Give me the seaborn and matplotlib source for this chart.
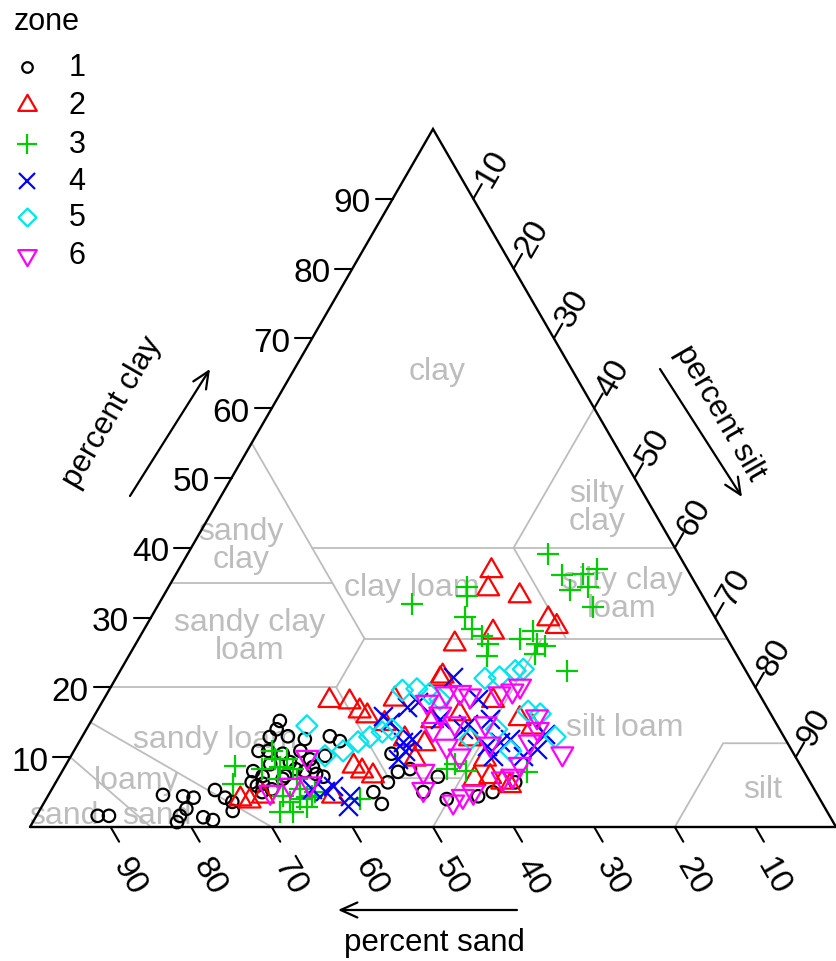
import numpy as np
import pandas as pd
import matplotlib
matplotlib.use("Agg")
import matplotlib.pyplot as plt
from matplotlib.lines import Line2D
from matplotlib.path import Path
import seaborn as sns

# ---- soil samples: percent sand and percent clay per zone (silt is the remainder) ----
zones = ["1", "2", "3", "4", "5", "6"]

z1_sand = [90.8, 89.4, 81.2, 78.8, 77.6, 79.3, 80.6, 81.4, 77.8, 76.8, 74.4, 73.7, 73.7, 73.1,
           61.4, 62.4, 63.8, 61.5, 66.2, 68.3, 67.5, 69.3, 68.0, 65.7, 63.4, 63.1, 64.7, 67.3,
           68.7, 59.6, 56.3, 55.4, 58.3, 60.0, 60.4, 60.6, 60.7, 61.9, 65.2,
           49.9, 50.4, 48.7, 52.4, 54.9, 54.7, 48.7, 45.8, 46.3, 42.2, 40.1, 36.6,
           68.9, 62.9, 61.0, 65.0]
z1_clay = [1.6, 1.6, 4.6, 4.4, 4.2, 2.6, 1.6, 0.7, 1.4, 1.0, 5.3, 4.2, 2.3, 3.6,
           15.2, 14.0, 12.9, 13.0, 10.9, 8.0, 7.3, 6.4, 6.2, 9.0, 10.5, 9.3, 7.3, 5.4,
           5.0, 12.6, 13.0, 12.3, 10.2, 7.2, 9.7, 8.6, 7.6, 8.0, 6.9,
           10.5, 7.9, 8.3, 6.4, 5.0, 3.3, 5.0, 7.2, 4.0, 4.4, 5.0, 6.4,
           5.9, 8.3, 10.9, 10.9]

z2_sand = [24.4, 26.1, 22.7, 20.8, 20.3, 28.6, 34.2, 38.0, 53.8, 51.4, 50.8, 50.2, 48.6,
           55.5, 54.8, 53.8, 47.4, 38.6, 33.5, 41.4, 39.3, 38.2, 37.5, 71.9, 70.9, 42.5,
           38.5, 47.2, 39.1, 31.5, 30.5, 38.7, 60.2, 45.6, 45.1, 68.9]
z2_clay = [36.7, 34.1, 33.1, 29.8, 28.7, 27.9, 26.2, 21.6, 18.1, 17.9, 16.6, 15.9, 14.8,
           8.7, 8.0, 7.3, 9.7, 16.2, 18.1, 6.9, 7.2, 6.4, 5.9, 4.0, 3.7, 15.2,
           21.2, 12.6, 12.6, 15.5, 14.3, 9.7, 4.4, 18.3, 11.9, 4.4]

z3_sand = [16.2, 16.0, 16.0, 13.3, 13.6, 11.2, 14.4, 28.6, 29.2, 31.0, 31.0, 30.2, 30.1,
           31.0, 25.8, 23.5, 24.0, 24.9, 23.2, 22.2, 36.6, 42.8, 41.9, 34.4, 44.1,
           70.2, 71.7, 64.5, 64.7, 64.7, 65.8, 63.3, 63.2, 63.4, 63.8, 66.4, 65.9,
           64.5, 63.5, 62.8, 66.3, 67.9, 64.2, 62.1, 57.1, 67.1]
z3_clay = [39.1, 36.1, 34.0, 36.2, 34.4, 37.0, 31.5, 34.4, 33.1, 30.1, 28.4, 27.4, 26.2,
           24.5, 26.9, 28.1, 26.2, 24.8, 25.9, 22.4, 31.9, 9.0, 8.0, 7.9, 8.3,
           8.7, 6.2, 10.9, 9.7, 8.6, 6.9, 9.7, 8.3, 6.9, 5.4, 4.4, 3.6,
           4.0, 4.3, 4.4, 2.1, 2.1, 2.9, 5.0, 4.0, 8.3]

z4_sand = [36.8, 42.9, 44.6, 48.3, 47.8, 47.6, 48.0, 39.3, 37.5, 35.6, 34.1, 37.5, 31.5,
           33.7, 59.5, 58.1, 59.0, 60.8, 46.3, 38.3, 35.3, 41.4, 49.5, 29.4, 35.2, 62.3]
z4_clay = [21.5, 17.9, 17.2, 15.9, 15.0, 12.2, 10.9, 14.0, 11.6, 12.2, 12.6, 10.2, 11.2,
           10.2, 5.9, 4.4, 3.0, 5.2, 12.6, 14.8, 18.3, 15.5, 9.7, 13.3, 15.5, 5.4]

z5_sand = [58.4, 58.3, 55.7, 53.2, 51.4, 49.5, 44.0, 42.1, 40.9, 32.9, 31.0, 28.6, 27.5,
           29.9, 28.6, 28.4, 48.1, 40.0, 35.1, 39.1, 34.9]
z5_clay = [14.5, 10.2, 10.9, 12.2, 12.9, 13.6, 19.6, 19.8, 19.1, 21.3, 21.5, 22.4, 22.6,
           16.6, 16.2, 12.9, 14.0, 18.3, 14.0, 12.6, 10.9]

z6_sand = [60.6, 67.7, 64.7, 62.2, 41.8, 38.8, 37.0, 36.0, 32.2, 30.4, 29.1, 43.0, 42.5,
           47.2, 48.5, 45.7, 44.1, 42.5, 29.2, 30.0, 31.9, 28.7, 36.5, 34.7, 37.9, 41.6,
           41.0, 36.1, 39.9, 37.0]
z6_clay = [10.0, 5.0, 6.0, 6.2, 17.9, 19.1, 19.3, 18.8, 19.1, 19.5, 20.2, 14.0, 11.6,
           8.0, 5.4, 3.6, 4.4, 5.0, 15.8, 14.0, 12.2, 10.5, 7.3, 9.0, 6.9, 10.2,
           16.2, 14.8, 14.8, 11.9]

sand_by_zone = [z1_sand, z2_sand, z3_sand, z4_sand, z5_sand, z6_sand]
clay_by_zone = [z1_clay, z2_clay, z3_clay, z4_clay, z5_clay, z6_clay]

tick_values = [10, 20, 30, 40, 50, 60, 70, 80, 90]

# USDA texture class boundaries as (sand, clay) polylines
class_lines = [
    [(45, 55), (45, 27)],
    [(45, 40), (0, 40)],
    [(0, 60), (20, 40)],
    [(20, 40), (20, 27)],
    [(65, 35), (45, 35)],
    [(45, 27), (0, 27)],
    [(45, 27), (52, 20)],
    [(80, 20), (52, 20)],
    [(52, 20), (52, 7), (43, 7)],
    [(23, 27), (50, 0)],
    [(20, 0), (8, 12), (0, 12)],
    [(85, 15), (70, 0)],
    [(90, 10), (85, 0)],
]

# ---- styling ----
sns.set_theme(style="white")
plt.rcParams["font.family"] = ["Liberation Sans", "DejaVu Sans"]
plt.rcParams["text.color"] = "black"


def closed_marker(verts):
    return Path(list(verts) + [verts[0]], closed=True)


zone_colors = ["#000000", "#FF0000", "#00CD00", "#0000FF", "#00E5EE", "#FF00FF"]
tri_up = closed_marker([(0, 1.555), (1.347, -0.778), (-1.347, -0.778)])
tri_down = closed_marker([(0, -1.555), (1.347, 0.778), (-1.347, 0.778)])
diamond = closed_marker([(0, 1), (1, 0), (0, -1), (-1, 0)])
zone_markers = ["o", tri_up, "+", "x", diamond, tri_down]
zone_sizes = [80, 330, 260, 185, 230, 330]
zone_filled = [True, True, False, False, True, True]
GRAY = "#bdbdbd"

S3 = np.sqrt(3) / 2


def to_xy(sand, clay):
    sand = np.asarray(sand, dtype=float) / 100.0
    clay = np.asarray(clay, dtype=float) / 100.0
    return 1.0 - sand - clay / 2.0, clay * S3


# ---- figure: triangle side spans 806 px, left corner at (30, 828) px ----
W, H = 836, 962
X0, Y0, SIDE = 30, 828, 806
P = 1.0 / SIDE  # one pixel in triangle units

fig = plt.figure(figsize=(W / 100, H / 100), dpi=100)
ax = fig.add_axes([0, 0, 1, 1])
ax.set_xlim(-X0 / SIDE, (W - X0) / SIDE)
ax.set_ylim(-(H - Y0) / SIDE, Y0 / SIDE)
ax.axis("off")


def px(x, y):
    return (x - X0) / SIDE, (Y0 - y) / SIDE


# class boundaries
for line in class_lines:
    s, c = zip(*line)
    lx, ly = to_xy(s, c)
    ax.plot(lx, ly, color=GRAY, lw=1.3, zorder=1)

# class names
label_fs = 23
class_labels = [
    ("clay", 437, 372), ("silty\nclay", 597, 508), ("sandy\nclay", 241, 546),
    ("clay loam", 412, 588), ("silty clay\nloam", 622, 595), ("sandy clay\nloam", 250, 637),
    ("sandy loam", 215, 740), ("silt loam", 625, 728), ("loamy", 137, 781),
    ("sand", 157, 816), ("sand", 64, 816), ("silt", 763, 790),
]
for txt, lx, ly in class_labels:
    tx, ty = px(lx, ly)
    ax.text(tx, ty, txt, color=GRAY, fontsize=label_fs, ha="center", va="center",
            linespacing=0.95, zorder=1)

# outer triangle
ax.plot([0, 1, 0.5, 0], [0, 0, S3, 0], color="black", lw=1.7, zorder=2,
        solid_joinstyle="miter")

# ticks and tick labels
tick_fs = 24
TL = 17 * P
for v in tick_values:
    f = v / 100.0
    # clay, left edge
    xe, ye = f / 2, f * S3
    ax.plot([xe, xe - TL], [ye, ye], color="black", lw=1.5)
    ax.text(xe - TL - 5 * P, ye - 4 * P, str(v), fontsize=tick_fs, ha="right", va="center")
    # sand, bottom edge
    xb = 1 - f
    ax.plot([xb, xb + TL * 0.5], [0, -TL * S3], color="black", lw=1.5)
    ax.text(xb + 18 * P, -49 * P, str(v), fontsize=tick_fs, ha="center", va="center",
            rotation=-60)
    # silt, right edge
    xr, yr = 0.5 + f / 2, (1 - f) * S3
    ax.plot([xr, xr + TL * 0.5], [yr, yr + TL * S3], color="black", lw=1.5)
    ax.text(xr + 19 * P, yr + 31 * P, str(v), fontsize=tick_fs, ha="center", va="center",
            rotation=60)

# axis titles with arrows
title_fs = 22.5
arrow_kw = dict(arrowstyle="->,head_length=1.0,head_width=0.45", lw=1.6, color="black",
                shrinkA=0, shrinkB=0)
ax.annotate("", xy=px(338, 911), xytext=px(517, 911), arrowprops=arrow_kw)
ax.text(*px(434, 943), "percent sand", fontsize=title_fs, ha="center", va="center")
ax.annotate("", xy=px(210, 370), xytext=px(130, 497), arrowprops=arrow_kw)
ax.text(*px(112, 412), "percent clay", fontsize=title_fs, ha="center", va="center",
        rotation=60)
ax.annotate("", xy=px(742, 498), xytext=px(660, 370), arrowprops=arrow_kw)
ax.text(*px(720, 413), "percent silt", fontsize=title_fs, ha="center", va="center",
        rotation=-60)

# samples
frames = []
for z, s, c in zip(zones, sand_by_zone, clay_by_zone):
    frames.append(pd.DataFrame({"zone": z, "sand": s, "clay": c}))
df = pd.concat(frames, ignore_index=True)
df["silt"] = 100 - df["sand"] - df["clay"]
df["x"], df["y"] = to_xy(df["sand"], df["clay"])

for z, col, mk, sz, filled in zip(zones, zone_colors, zone_markers, zone_sizes, zone_filled):
    sub = df[df["zone"] == z]
    if filled:
        sns.scatterplot(data=sub, x="x", y="y", marker=mk, s=sz, facecolor="none",
                        edgecolor=col, linewidth=1.6, ax=ax, legend=False, zorder=3)
    else:
        sns.scatterplot(data=sub, x="x", y="y", marker=mk, s=sz, color=col,
                        linewidth=1.6, ax=ax, legend=False, zorder=3)
ax.set_xlabel("")
ax.set_ylabel("")
ax.set_xlim(-X0 / SIDE, (W - X0) / SIDE)
ax.set_ylim(-(H - Y0) / SIDE, Y0 / SIDE)

# legend, laid out row by row in figure pixels
fig.text(14 / W, 1 - 22 / H, "zone", fontsize=22, ha="left", va="center")
row_y = [68, 106, 145, 182, 218, 256]
for z, col, mk, sz, filled, ry in zip(zones, zone_colors, zone_markers, zone_sizes,
                                       zone_filled, row_y):
    fig.add_artist(Line2D([27 / W], [1 - ry / H], transform=fig.transFigure,
                          linestyle="none", marker=mk, markersize=np.sqrt(sz) * 0.85,
                          markerfacecolor="none" if filled else col,
                          markeredgecolor=col, markeredgewidth=1.6))
    fig.text(77 / W, 1 - ry / H, z, fontsize=22, ha="center", va="center")

fig.savefig("out.png", dpi=100)
